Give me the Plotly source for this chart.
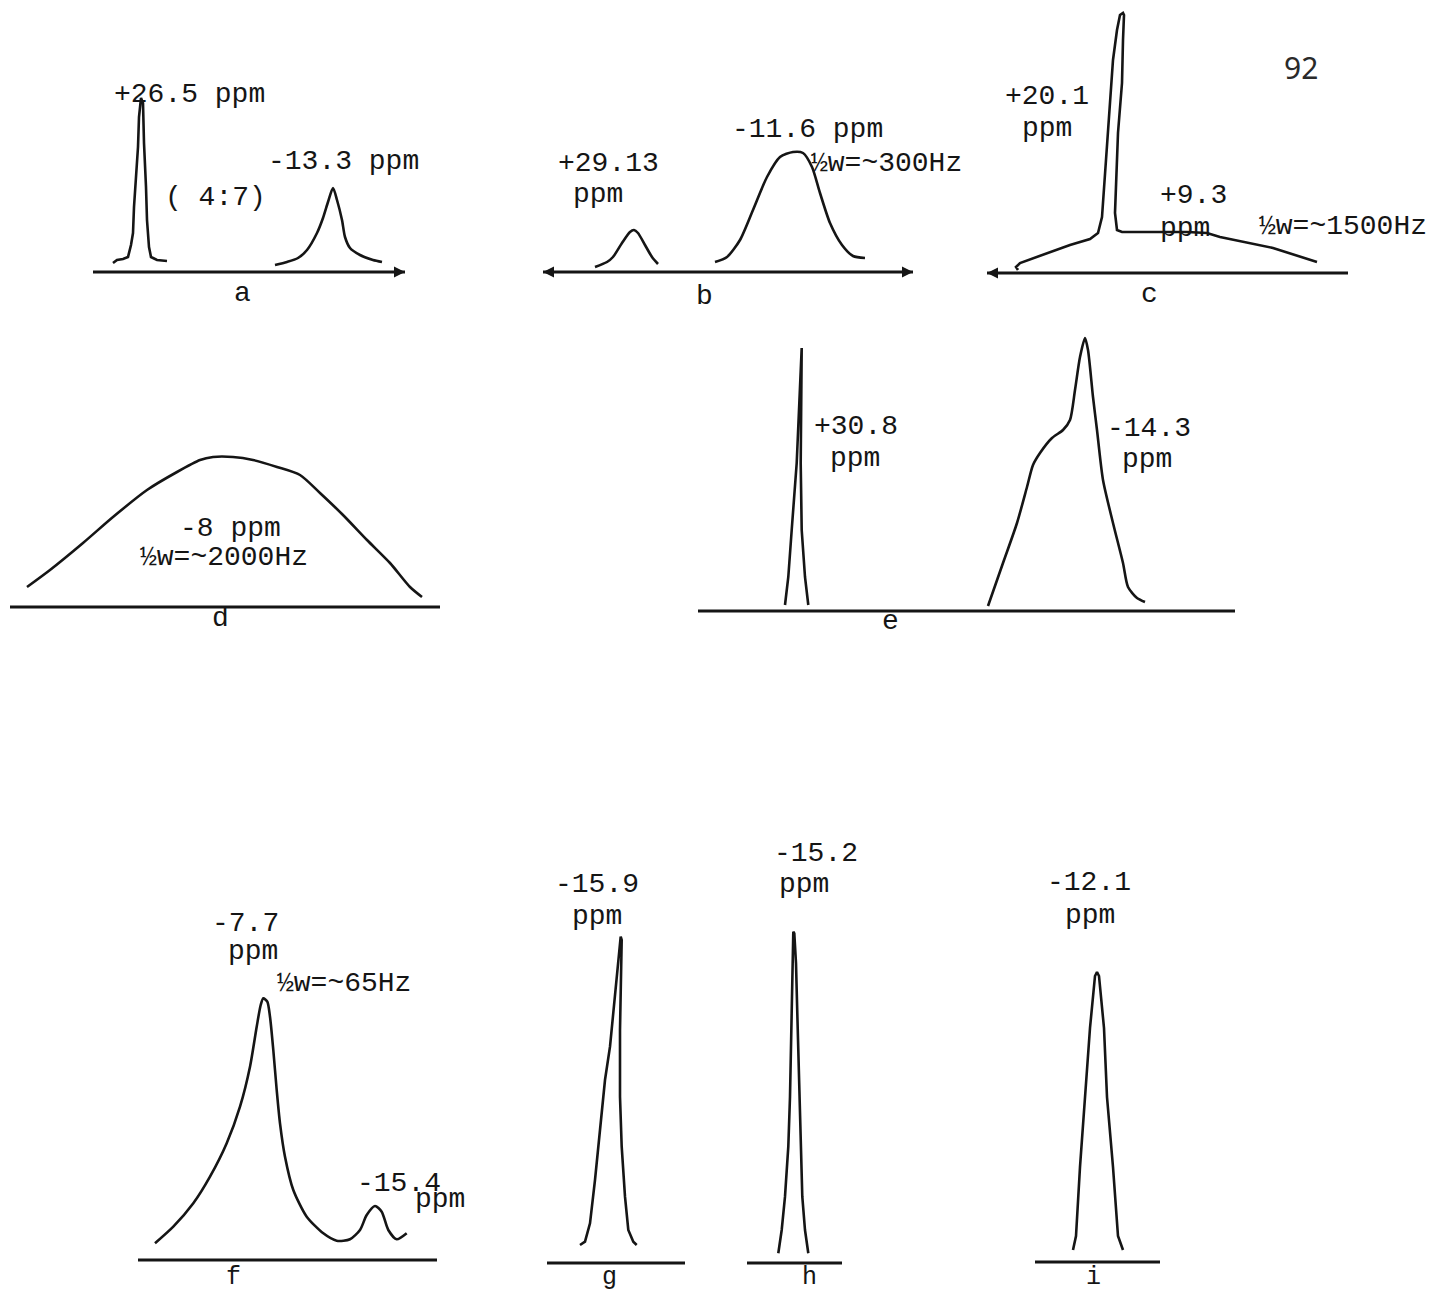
import plotly.graph_objects as go

PAGE_W, PAGE_H = 1434, 1291
INK = "#151515"
MONO = "Liberation Mono, Courier New, monospace"

# ---- traced spectra (x: chart-paper position, y: signal height above baseline) ----
A_BASE_X = [33, 345]
A_PEAK1_X = [53, 57, 63, 68, 71, 73, 74, 76, 78, 79, 81, 83, 84, 86, 87, 89, 91, 97, 107]
A_PEAK1_Y = [9, 12, 13, 15, 27, 39, 65, 95, 125, 155, 174, 169, 129, 85, 52, 25, 15, 12, 11]
A_PEAK2_X = [215, 227, 238, 247, 257, 263, 268, 273, 277, 282, 285, 290, 300, 313, 322]
A_PEAK2_Y = [7, 10, 14, 22, 39, 54, 70, 84, 72, 52, 35, 24, 17, 12, 10]

B_BASE_X = [23, 393]
B_PEAK1_X = [75, 87, 93, 102, 110, 114, 118, 125, 132, 138]
B_PEAK1_Y = [5, 10, 15, 29, 40, 42, 39, 27, 15, 8]
B_PEAK2_X = [195, 207, 220, 233, 247, 260, 273, 283, 292, 300, 310, 322, 333, 345]
B_PEAK2_Y = [10, 15, 32, 62, 95, 115, 120, 119, 105, 79, 49, 27, 16, 14]

C_BASE_X = [7, 368]
C_X = [38, 36, 40, 67, 90, 110, 118, 122, 124, 127, 130, 133, 137, 140, 143, 144,
       143, 142, 138, 136, 135, 137, 142, 207, 227, 240, 293, 337]
C_Y = [3, 6, 10, 20, 28, 34, 40, 56, 86, 123, 173, 213, 243, 258, 260, 258,
       233, 190, 140, 96, 60, 43, 41, 41, 40, 36, 25, 11]

D_BASE_X = [10, 440]
D_X = [27, 50, 83, 113, 147, 177, 200, 213, 233, 253, 277, 300, 320, 343, 367, 390, 410, 422]
D_Y = [20, 37, 64, 90, 117, 135, 147, 150, 150, 147, 140, 132, 114, 92, 67, 44, 20, 10]

E_BASE_X = [18, 555]
E_PEAK1_X = [105, 108.3, 111.7, 116.7, 121.7, 120.7, 121.7, 125, 128.3]
E_PEAK1_Y = [6, 34, 81, 148, 263, 148, 81, 34, 6]
E_PEAK2_X = [308, 323, 337, 347, 353, 360, 372, 383, 390, 395, 400, 405, 408, 413,
             417, 423, 433, 443, 448, 457, 465]
E_PEAK2_Y = [5, 48, 88, 124, 146, 158, 173, 181, 191, 221, 254, 273, 261, 214,
             181, 131, 88, 48, 24, 13, 9]

F_BASE_X = [18, 317]
F_X = [35, 53.3, 73.3, 90, 106.7, 120, 130, 136.7, 140.7, 143.3, 147.3, 150, 153.3, 156.7,
       160, 165, 173.3, 186.7, 203.3, 216.7, 230, 240, 246.7, 255, 261.7, 268.3, 276.7, 286.7]
F_Y = [16.7, 33.3, 56.7, 83.3, 116.7, 153.3, 193.3, 233.3, 255, 261.7, 258.3, 243.3, 210, 170,
       136.7, 103.3, 70, 43.3, 26.7, 19.3, 20.7, 30, 45, 54, 48.3, 30, 20.7, 26.7]

G_BASE_X = [7, 145]
G_X = [40, 45, 50, 55, 60, 65, 70, 73.3, 77.3, 80, 80.7, 81.7, 81, 80, 80, 81.7, 85, 88.3, 93.3, 96.7]
G_Y = [18, 21.3, 39.7, 83, 133, 183, 216.3, 249.7, 289.7, 323, 326.3, 323, 289.7, 233,
       166.3, 116.3, 66.3, 33, 21.3, 18]

H_BASE_X = [27, 122]
H_X = [58.3, 61.7, 65, 68.3, 70, 71, 71.7, 72.7, 73.3, 74.3, 76, 77.3, 78.7, 80, 82.3, 85, 88.3]
H_Y = [9.7, 33, 66.3, 116.3, 166.3, 216.3, 266.3, 306.3, 331.3, 329.7, 299.7, 249.7, 199.7,
       133, 66.3, 33, 9.7]

I_BASE_X = [15, 140]
I_X = [53, 56, 60, 65, 70, 75, 77, 79, 84, 87, 93, 98, 103]
I_Y = [12, 26, 95, 165, 234, 286, 290, 286, 234, 165, 95, 26, 12]

# ---- panel frames on the page: left, top, right, bottom, baseline (pixels) ----
FRAMES = {
    "a": (60, 0, 480, 310, 272),
    "b": (520, 0, 978, 310, 272),
    "c": (980, 0, 1434, 310, 273),
    "d": (0, 420, 460, 640, 607),
    "e": (680, 320, 1250, 640, 611),
    "f": (120, 890, 480, 1291, 1260),
    "g": (540, 840, 700, 1291, 1263),
    "h": (720, 840, 880, 1291, 1263),
    "i": (1020, 840, 1180, 1291, 1262),
}

# curves per panel: (x, y, smooth?)
CURVES = {
    "a": [(A_PEAK1_X, A_PEAK1_Y, False), (A_PEAK2_X, A_PEAK2_Y, True)],
    "b": [(B_PEAK1_X, B_PEAK1_Y, True), (B_PEAK2_X, B_PEAK2_Y, True)],
    "c": [(C_X, C_Y, False)],
    "d": [(D_X, D_Y, True)],
    "e": [(E_PEAK1_X, E_PEAK1_Y, False), (E_PEAK2_X, E_PEAK2_Y, True)],
    "f": [(F_X, F_Y, True)],
    "g": [(G_X, G_Y, False)],
    "h": [(H_X, H_Y, False)],
    "i": [(I_X, I_Y, False)],
}
BASELINES = {"a": A_BASE_X, "b": B_BASE_X, "c": C_BASE_X, "d": D_BASE_X, "e": E_BASE_X,
             "f": F_BASE_X, "g": G_BASE_X, "h": H_BASE_X, "i": I_BASE_X}

# text labels per panel: (text, x, y) in panel coordinates
LABELS = {
    "a": [("+26.5 ppm", 129, 178), ("-13.3 ppm", 283, 111), ("( 4:7)", 155, 75), ("a", 182, -21)],
    "b": [("-11.6 ppm", 287, 143), ("½w=~300Hz", 366, 109), ("+29.13", 88, 109),
          ("ppm", 78, 78), ("b", 184, -24)],
    "c": [("+20.1", 67, 177), ("ppm", 67, 145), ("+9.3", 213, 78), ("ppm", 205, 45),
          ("½w=~1500Hz", 363, 47), ("c", 169, -21)],
    "d": [("-8 ppm", 230, 79), ("½w=~2000Hz", 224, 50), ("d", 220, -11)],
    "e": [("+30.8", 176, 185), ("ppm", 175, 153), ("-14.3", 469, 183), ("ppm", 467, 152),
          ("e", 210, -10)],
    "f": [("-7.7", 125, 337), ("ppm", 133, 309), ("½w=~65Hz", 224, 277), ("-15.4", 279, 77),
          ("ppm", 320, 61)],
    "g": [("-15.9", 57, 379), ("ppm", 57, 347)],
    "h": [("-15.2", 96, 410), ("ppm", 84, 379)],
    "i": [("-12.1", 69, 380), ("ppm", 70, 347)],
}
# panel letters of the bottom row sit right at the lower page edge
EDGE_LETTERS = {"f": ("f", 113, -17), "g": ("g", 69, -14), "h": ("h", 89, -14), "i": ("i", 73, -15)}

fig = go.Figure()
annotations = []
layout_axes = {}

for n, key in enumerate(FRAMES, start=1):
    left, top, right, bottom, base = FRAMES[key]
    sfx = "" if n == 1 else str(n)
    xref, yref = f"x{sfx}", f"y{sfx}"
    layout_axes[f"xaxis{sfx}"] = dict(domain=[left / PAGE_W, right / PAGE_W], range=[0, right - left],
                                      visible=False, fixedrange=True, anchor=yref)
    layout_axes[f"yaxis{sfx}"] = dict(domain=[1 - bottom / PAGE_H, 1 - top / PAGE_H],
                                      range=[base - bottom, base - top],
                                      visible=False, fixedrange=True, anchor=xref)

    bx = BASELINES[key]
    fig.add_trace(go.Scatter(x=bx, y=[0, 0], mode="lines", xaxis=xref, yaxis=yref,
                             line=dict(color=INK, width=2.9), hoverinfo="skip", showlegend=False))
    for xs, ys, smooth in CURVES[key]:
        fig.add_trace(go.Scatter(x=xs, y=ys, mode="lines", xaxis=xref, yaxis=yref,
                                 line=dict(color=INK, width=2.6,
                                           shape="spline" if smooth else "linear",
                                           smoothing=0.7 if smooth else None),
                                 hoverinfo="skip", showlegend=False))

    for text, tx, ty in LABELS[key]:
        annotations.append(dict(x=tx, y=ty, xref=xref, yref=yref, text=text, showarrow=False,
                                xanchor="center", yanchor="middle",
                                font=dict(family=MONO, size=28, color=INK)))
    if key in EDGE_LETTERS:
        text, tx, ty = EDGE_LETTERS[key]
        annotations.append(dict(x=tx, y=ty, xref=xref, yref=yref, text=text, showarrow=False,
                                xanchor="center", yanchor="middle", borderpad=0,
                                font=dict(family=MONO, size=25, color=INK)))

    # arrow tips on the recorder baselines
    if key in ("a", "b"):
        annotations.append(dict(x=bx[1], y=0, ax=bx[1] - 14, ay=0, xref=xref, yref=yref,
                                axref=xref, ayref=yref, text="", showarrow=True,
                                arrowhead=2, arrowsize=1, arrowwidth=2.2, arrowcolor=INK))
    if key in ("b", "c"):
        annotations.append(dict(x=bx[0], y=0, ax=bx[0] + 14, ay=0, xref=xref, yref=yref,
                                axref=xref, ayref=yref, text="", showarrow=True,
                                arrowhead=2, arrowsize=1, arrowwidth=2.2, arrowcolor=INK))
    if key == "c":
        annotations.append(dict(x=321, y=206, xref=xref, yref=yref, text="92", showarrow=False,
                                xanchor="center", yanchor="middle",
                                font=dict(family="Noto Sans", size=30, color="#2a2a2a")))

fig.update_layout(
    width=PAGE_W, height=PAGE_H, autosize=False,
    margin=dict(l=0, r=0, t=0, b=0),
    paper_bgcolor="white", plot_bgcolor="rgba(0,0,0,0)",
    annotations=annotations,
    **layout_axes,
)

fig.write_html("out.html")
